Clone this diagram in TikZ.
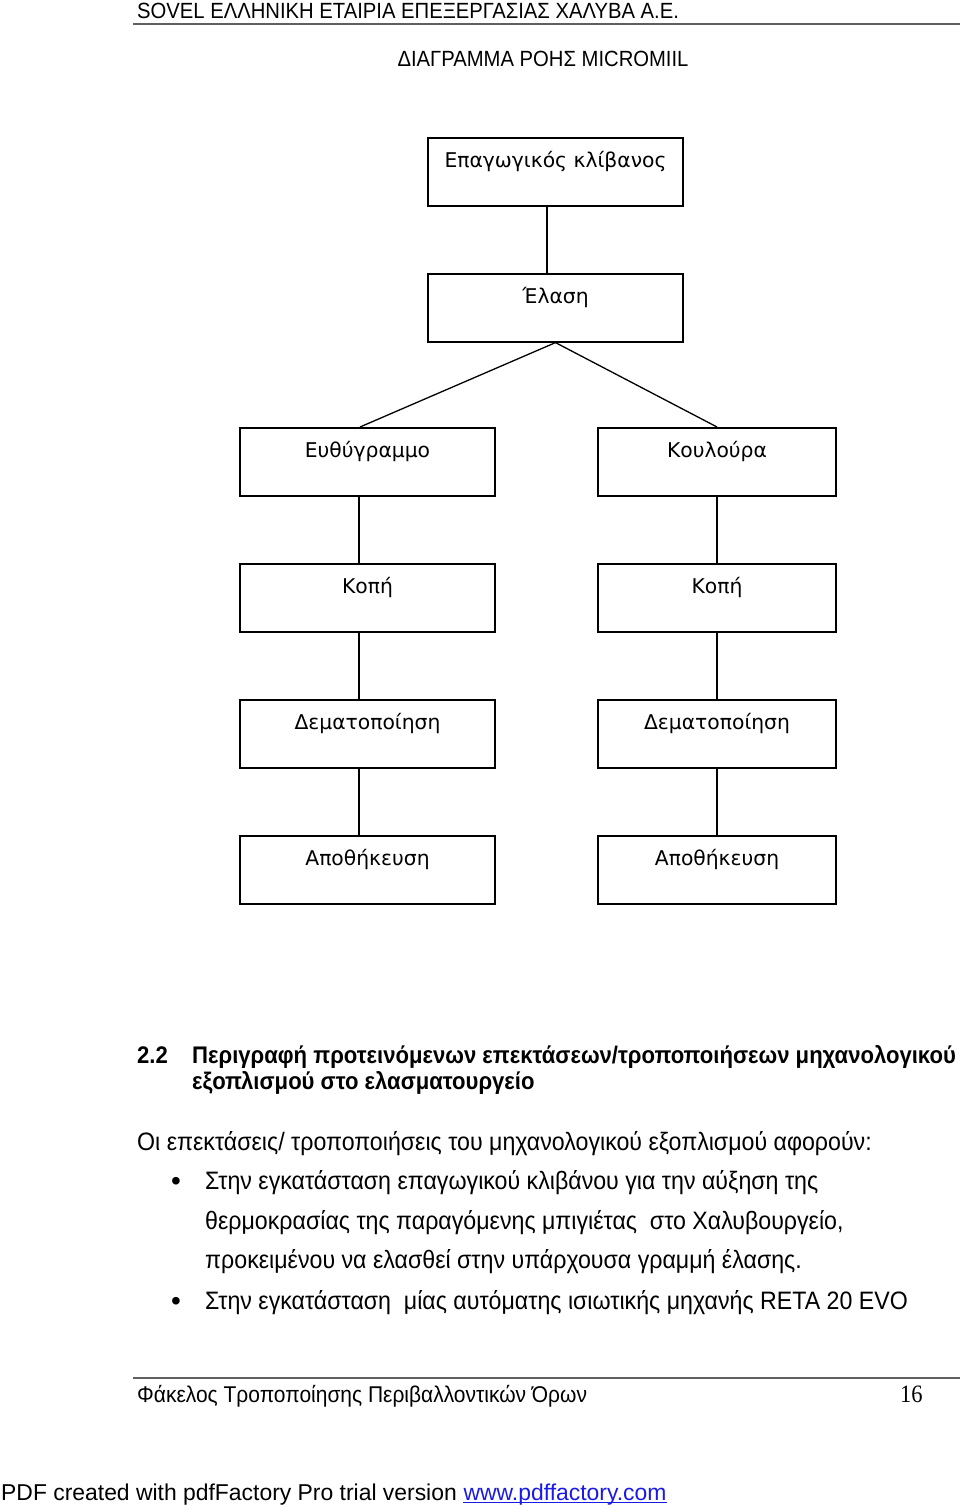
\documentclass[tikz,border=0pt]{standalone}
\usepackage{fontspec}
\setmainfont{Liberation Sans}
\newfontfamily\boxfont{DejaVu Sans}
\newfontfamily\narrowfont[FakeStretch=0.92]{Liberation Sans}
\newfontfamily\serifnarrow[FakeStretch=0.9]{Liberation Serif}
\definecolor{rulegray}{HTML}{606060}
\definecolor{linkblue}{HTML}{1A1AE6}
\begin{document}
\begin{tikzpicture}[x=1pt,y=-1pt,
  flowbox/.style={draw, line width=1.6pt, anchor=north, inner xsep=0pt, inner ysep=0pt,
    text height=30pt, text depth=38pt, font=\boxfont\fontsize{20.3}{23}\selectfont},
  conn/.style={line width=1.3pt},
  txt/.style={anchor=base west, inner sep=0pt},
  hdr/.style={txt, font=\narrowfont\fontsize{22}{24}\selectfont},
  body/.style={txt, font=\narrowfont\fontsize{25.2}{28}\selectfont},
  bodyb/.style={txt, font=\narrowfont\bfseries\fontsize{24}{28}\selectfont}]
\useasboundingbox (0,0) rectangle (960,1506);
\fill[white] (0,0) rectangle (960,1506);
% header
\node[hdr] (hdrtext) at (137,19) {SOVEL ΕΛΛΗΝΙΚΗ ΕΤΑΙΡΙΑ ΕΠΕΞΕΡΓΑΣΙΑΣ ΧΑΛΥΒΑ Α.Ε.};
\coordinate (hr1) at (133,24);
\coordinate (hr2) at (960,24);
\draw[rulegray, line width=2pt] (hr1) -- (hr2);
\node[anchor=base, inner sep=0pt, font=\narrowfont\fontsize{22}{26}\selectfont] (title) at (543,67) {ΔΙΑΓΡΑΜΜΑ ΡΟΗΣ MICROMIIL};
% boxes
\node[flowbox, minimum width=255pt] (b1) at (555.5,137) {Επαγωγικός κλίβανος};
\node[flowbox, minimum width=255pt] (b2) at (555.5,273) {Έλαση};
\node[flowbox, minimum width=255pt] (l1) at (367.5,427) {Ευθύγραμμο};
\node[flowbox, minimum width=238pt] (r1) at (717,427) {Κουλούρα};
\node[flowbox, minimum width=255pt] (l2) at (367.5,563) {Κοπή};
\node[flowbox, minimum width=238pt] (r2) at (717,563) {Κοπή};
\node[flowbox, minimum width=255pt] (l3) at (367.5,699) {Δεματοποίηση};
\node[flowbox, minimum width=238pt] (r3) at (717,699) {Δεματοποίηση};
\node[flowbox, minimum width=255pt] (l4) at (367.5,835) {Αποθήκευση};
\node[flowbox, minimum width=238pt] (r4) at (717,835) {Αποθήκευση};
% connectors
\draw[conn] ([xshift=-8.5pt]b1.south) -- ([xshift=-8.5pt]b2.north);
\draw[conn] (b2.south) -- ([xshift=-7.5pt]l1.north);
\draw[conn] (b2.south) -- (r1.north);
\draw[conn] ([xshift=-8.5pt]l1.south) -- ([xshift=-8.5pt]l2.north);
\draw[conn] ([xshift=-8.5pt]l2.south) -- ([xshift=-8.5pt]l3.north);
\draw[conn] ([xshift=-8.5pt]l3.south) -- ([xshift=-8.5pt]l4.north);
\draw[conn] (r1.south) -- (r2.north);
\draw[conn] (r2.south) -- (r3.north);
\draw[conn] (r3.south) -- (r4.north);
% section text
\node[bodyb] (secnum) at (137,1063) {2.2};
\node[bodyb] (sec1) at (192,1063) {Περιγραφή προτεινόμενων επεκτάσεων/τροποποιήσεων μηχανολογικού};
\node[bodyb] (sec2) at (192,1089) {εξοπλισμού στο ελασματουργείο};
\node[body] (intro) at (137,1150) {Οι επεκτάσεις/ τροποποιήσεις του μηχανολογικού εξοπλισμού αφορούν:};
\node[body, font=\fontsize{28}{30}\selectfont] (bul1) at (171,1190) {•};
\node[body] (t1) at (205,1189) {Στην εγκατάσταση επαγωγικού κλιβάνου για την αύξηση της};
\node[body] (t2) at (205,1229) {θερμοκρασίας της παραγόμενης μπιγιέτας\ \ στο Χαλυβουργείο,};
\node[body] (t3) at (205,1268) {προκειμένου να ελασθεί στην υπάρχουσα γραμμή έλασης.};
\node[body, font=\fontsize{28}{30}\selectfont] (bul2) at (171,1310) {•};
\node[body] (t4) at (205,1309) {Στην εγκατάσταση\ \ μίας αυτόματης ισιωτικής μηχανής RETA 20 EVO};
% footer
\coordinate (fr1) at (133,1378);
\coordinate (fr2) at (960,1378);
\draw[rulegray, line width=1.5pt] (fr1) -- (fr2);
\node[txt, font=\narrowfont\fontsize{22.8}{26}\selectfont] (foot) at (137,1402) {Φάκελος Τροποποίησης Περιβαλλοντικών Όρων};
\node[txt, font=\serifnarrow\fontsize{25}{28}\selectfont] (page) at (900,1402) {16};
% pdf factory
\node[txt, font=\fontsize{22.9}{26}\selectfont] (pdf) at (1,1500) {PDF created with pdfFactory Pro trial version};
\node[txt, font=\fontsize{22.9}{26}\selectfont, text=linkblue] (link) at ([xshift=6.4pt]pdf.base east) {www.pdffactory.com};
\draw[linkblue, line width=1.4pt] ([yshift=-2.5pt]link.base west) -- ([yshift=-2.5pt]link.base east);
\end{tikzpicture}
\end{document}
